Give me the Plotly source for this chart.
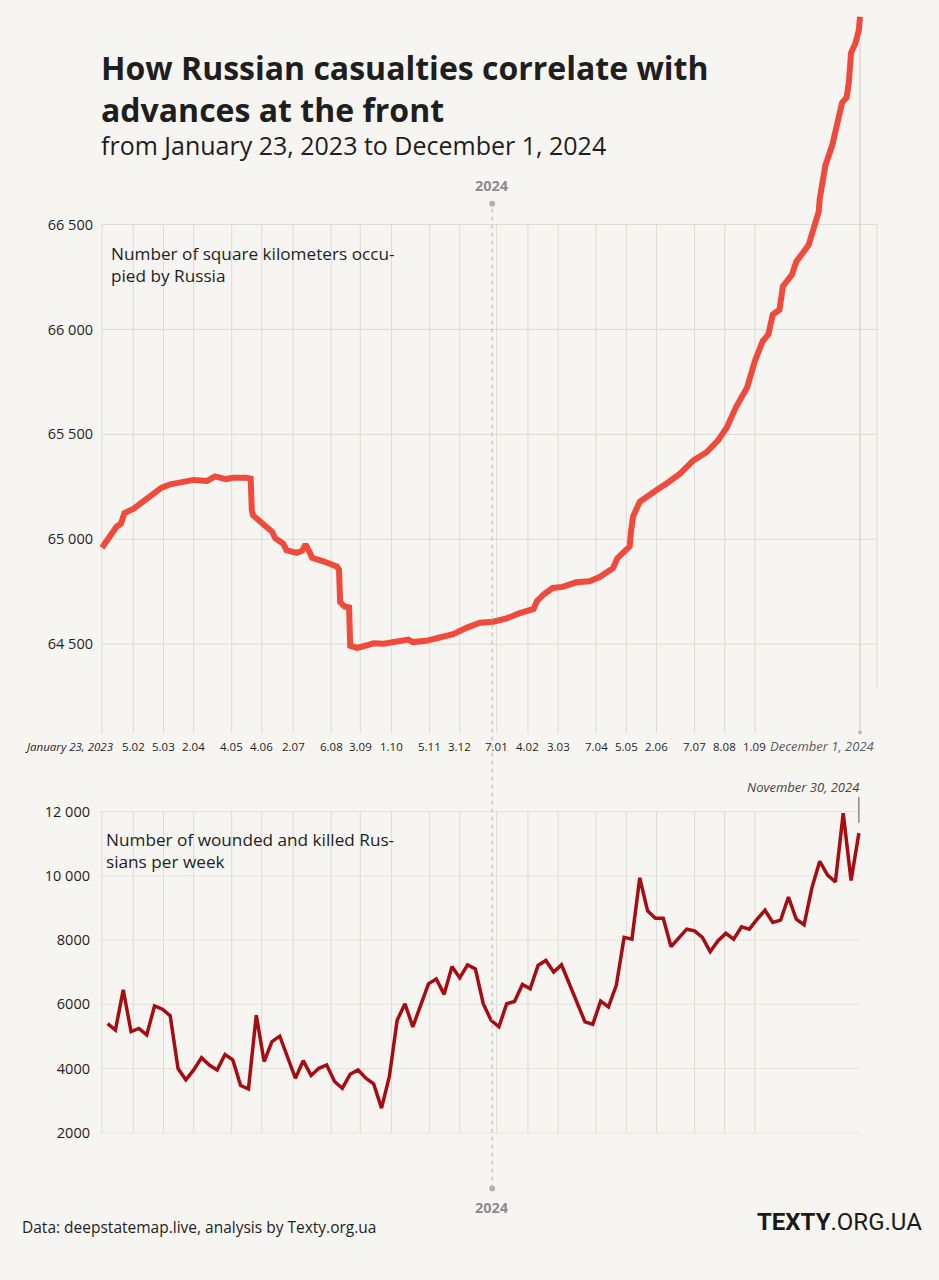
import pandas as pd
import plotly.graph_objects as go

# ---------------- data ----------------
occ_dates = [
    "2023-01-23", "2023-01-30", "2023-02-05", "2023-02-09", "2023-02-12", "2023-02-20",
    "2023-03-01", "2023-03-10", "2023-03-17", "2023-03-25", "2023-04-06", "2023-04-15",
    "2023-04-27", "2023-05-04", "2023-05-14", "2023-05-20", "2023-06-01", "2023-06-05",
    "2023-06-06", "2023-06-07", "2023-06-16", "2023-06-24", "2023-06-27", "2023-07-04",
    "2023-07-07", "2023-07-16", "2023-07-21", "2023-07-24", "2023-07-28", "2023-07-30",
    "2023-08-09", "2023-08-21", "2023-08-23", "2023-08-24", "2023-08-28", "2023-09-01",
    "2023-09-02", "2023-09-08", "2023-09-17", "2023-09-23", "2023-10-02", "2023-10-14",
    "2023-10-24", "2023-10-28", "2023-11-09", "2023-11-21", "2023-12-03", "2023-12-15",
    "2023-12-27", "2024-01-08", "2024-01-20", "2024-01-31", "2024-02-13", "2024-02-16",
    "2024-02-22", "2024-03-01", "2024-03-10", "2024-03-22", "2024-04-03", "2024-04-12",
    "2024-04-24", "2024-04-28", "2024-05-09", "2024-05-10", "2024-05-12", "2024-05-18",
    "2024-05-27", "2024-06-04", "2024-06-11", "2024-06-23", "2024-07-05", "2024-07-17",
    "2024-07-27", "2024-08-04", "2024-08-12", "2024-08-22", "2024-08-29", "2024-09-05",
    "2024-09-10", "2024-09-14", "2024-09-20", "2024-09-23", "2024-10-01", "2024-10-05",
    "2024-10-16", "2024-10-20", "2024-10-25", "2024-10-26", "2024-10-31", "2024-11-06",
    "2024-11-12", "2024-11-15", "2024-11-19", "2024-11-21", "2024-11-23", "2024-11-27",
    "2024-11-30", "2024-12-01",
]
occ_km2 = [
    64960, 65020, 65060, 65075, 65125, 65145,
    65180, 65210, 65245, 65262, 65270, 65283,
    65278, 65300, 65287, 65293, 65293, 65289,
    65140, 65115, 65073, 65037, 65005, 64980,
    64948, 64935, 64945, 64975, 64935, 64912,
    64895, 64870, 64856, 64700, 64680, 64675,
    64492, 64482, 64495, 64505, 64502, 64515,
    64522, 64510, 64516, 64532, 64548, 64578,
    64602, 64607, 64623, 64647, 64668, 64705,
    64737, 64768, 64773, 64795, 64800, 64820,
    64862, 64910, 64966, 65030, 65108, 65179,
    65215, 65242, 65266, 65313, 65376, 65416,
    65471, 65534, 65629, 65723, 65850, 65945,
    65976, 66071, 66094, 66205, 66260, 66323,
    66402, 66465, 66560, 66623, 66781, 66875,
    67002, 67081, 67105, 67176, 67318, 67365,
    67428, 67490,
]

cas_week_end = pd.date_range("2023-01-28", "2024-11-30", freq="7D")
cas_per_week = [
    5400, 5200, 6450, 5150, 5250, 5050, 5950, 5850, 5650, 4000,
    3650, 3960, 4340, 4110, 3960, 4440, 4270, 3475, 3370, 5660,
    4220, 4840, 5010, 4370, 3700, 4250, 3785, 4010, 4115, 3600,
    3390, 3825, 3960, 3700, 3525, 2770, 3750, 5505, 6020, 5300,
    5975, 6640, 6790, 6310, 7175, 6825, 7230, 7100, 6020, 5505,
    5300, 6020, 6090, 6620, 6485, 7210, 7365, 7005, 7230, 6660,
    6020, 5455, 5380, 6100, 5920, 6590, 8085, 8030, 9940, 8910,
    8680, 8680, 7795, 8065, 8340, 8290, 8085, 7640, 7980, 8210,
    8030, 8415, 8340, 8650, 8930, 8550, 8620, 9340, 8650, 8475,
    9630, 10455, 10020, 9815, 11950, 9855, 11330,
]

tick_dates = [
    "2023-01-23", "2023-02-20", "2023-03-19", "2023-04-15", "2023-05-19", "2023-06-15",
    "2023-07-13", "2023-08-16", "2023-09-11", "2023-10-09", "2023-11-12", "2023-12-09",
    "2024-01-11", "2024-02-08", "2024-03-06", "2024-04-09", "2024-05-06", "2024-06-02",
    "2024-07-06", "2024-08-02", "2024-08-29", "2024-12-01",
]
tick_labels = [
    "January 23, 2023", "5.02", "5.03", "2.04", "4.05", "4.06", "2.07", "6.08", "3.09",
    "1.10", "5.11", "3.12", "7.01", "4.02", "3.03", "7.04", "5.05", "2.06", "7.07",
    "8.08", "1.09", "December 1, 2024",
]
occ_ticks = [64500, 65000, 65500, 66000, 66500]
occ_tick_text = ["64 500", "65 000", "65 500", "66 000", "66 500"]
cas_ticks = [2000, 4000, 6000, 8000, 10000, 12000]
cas_tick_text = ["2000", "4000", "6000", "8000", "10 000", "12 000"]
year_marker = "2024-01-07"

# ---------------- style / layout ----------------
W, H = 939, 1280
BG = "#f7f5f2"
GRID = "#dedad5"
FONT = "Open Sans"
TXT = "#1e1e1e"

def px(xp):
    return xp / W

def py(yp):
    return 1 - yp / H

PX_PER_DAY = 1.118
X0_PX = 102
start = pd.Timestamp("2023-01-23")
x_range = [start - pd.Timedelta(days=X0_PX / PX_PER_DAY),
           start + pd.Timedelta(days=(W - X0_PX) / PX_PER_DAY)]

occ_range = [64075, 67570]
cas_range = [1969, 12362]

fig = go.Figure()
fig.add_trace(go.Scatter(x=occ_dates, y=occ_km2, mode="lines",
                         line=dict(color="#ef4a3c", width=6),
                         xaxis="x", yaxis="y", hoverinfo="skip"))
fig.add_trace(go.Scatter(x=cas_week_end, y=cas_per_week, mode="lines",
                         line=dict(color="#a50d12", width=3.5),
                         xaxis="x2", yaxis="y2", hoverinfo="skip"))

shapes = []
# top chart grid
for v in occ_ticks:
    shapes.append(dict(type="line", xref="paper", yref="y", x0=px(102), x1=px(877),
                       y0=v, y1=v, line=dict(color=GRID, width=1), layer="below"))
for d in tick_dates[:-1]:
    shapes.append(dict(type="line", xref="x", yref="y", x0=d, x1=d,
                       y0=occ_range[0], y1=66500, line=dict(color=GRID, width=1), layer="below"))
shapes.append(dict(type="line", xref="x", yref="paper", x0=tick_dates[-1], x1=tick_dates[-1],
                   y0=py(737), y1=py(43), line=dict(color="#cfcbc6", width=1), layer="below"))
shapes.append(dict(type="circle", xref="x", yref="paper", xsizemode="pixel", ysizemode="pixel",
                   xanchor=tick_dates[-1], yanchor=py(737), x0=-2, x1=2, y0=-2, y1=2,
                   fillcolor="#bdbab5", line=dict(width=0)))
shapes.append(dict(type="line", xref="paper", yref="paper", x0=px(877), x1=px(877),
                   y0=py(693), y1=py(226), line=dict(color=GRID, width=1), layer="below"))
# bottom chart grid
for v in cas_ticks:
    shapes.append(dict(type="line", xref="paper", yref="y2", x0=px(99), x1=px(860),
                       y0=v, y1=v, line=dict(color="#e6e3de", width=1), layer="below"))
for d in tick_dates[:-1]:
    shapes.append(dict(type="line", xref="x2", yref="y2", x0=d, x1=d,
                       y0=2000, y1=12000, line=dict(color=GRID, width=1), layer="below"))
# year marker
shapes.append(dict(type="line", xref="x", yref="paper", x0=year_marker, x1=year_marker,
                   y0=py(1196), y1=py(205), line=dict(color="#b5b2ad", width=1, dash="4px,4px")))
for yy in (205, 1196):
    shapes.append(dict(type="circle", xref="x", yref="paper", xsizemode="pixel", ysizemode="pixel",
                       xanchor=year_marker, yanchor=py(yy), x0=-3, x1=3, y0=-3, y1=3,
                       fillcolor="#b5b2ad", line=dict(width=0)))
# last-week pointer
last_week = cas_week_end[-1]
shapes.append(dict(type="line", xref="x2", yref="paper", x0=last_week, x1=last_week,
                   y0=py(828), y1=py(802), line=dict(color="#555", width=1)))

ann = []
def A(text, x, y, size, color=TXT, xanchor="left", yanchor="middle", xref="paper", yref="paper",
      xshift=0, align="left", family=FONT):
    ann.append(dict(text=text, x=x, y=y, xref=xref, yref=yref, xanchor=xanchor, yanchor=yanchor,
                    showarrow=False, xshift=xshift, align=align,
                    font=dict(family=family, size=size, color=color)))

A("<b>How Russian casualties correlate with</b>", px(99), py(68), 32)
A("<b>advances at the front</b>", px(99), py(110), 32)
A("from January 23, 2023 to December 1, 2024", px(99), py(146), 25)
A("Number of square kilometers occu-<br>pied by Russia", px(109), py(266), 17.2)
A("Number of wounded and killed Rus-<br>sians per week", px(104), py(855.5), 17.2)

for i, (d, lab) in enumerate(zip(tick_dates, tick_labels)):
    if i == 0:
        A("<i>" + lab + "</i>", d, py(751), 11.5, TXT, xanchor="right", xref="x", xshift=14)
    elif i == len(tick_dates) - 1:
        A("<i>" + lab + "</i>", d, py(751), 13, "#5a5a5a", xanchor="right", xref="x", xshift=16)
    else:
        A(lab, d, py(751), 11.5, TXT, xanchor="center", xref="x")

A("<b>2024</b>", year_marker, py(187), 14.5, "#8c8c8c", xanchor="center", xref="x")
A("<b>2024</b>", year_marker, py(1215), 14.5, "#8c8c8c", xanchor="center", xref="x")
A("<i>November 30, 2024</i>", last_week, py(792), 13, "#444", xanchor="right", xref="x2", xshift=2)

A("Data: deepstatemap.live, analysis by Texty.org.ua", px(20), py(1235), 15.5)
ann.append(dict(text="<b>TEXTY</b>.ORG.UA", x=px(924), y=py(1230), xref="paper", yref="paper",
                xanchor="right", yanchor="middle", showarrow=False,
                font=dict(family="Roboto", size=24, color="#1a1a1a")))

axis_common = dict(showgrid=False, zeroline=False, showline=False)
fig.update_layout(
    width=W, height=H,
    margin=dict(l=0, r=0, t=0, b=0),
    paper_bgcolor=BG, plot_bgcolor="rgba(0,0,0,0)",
    showlegend=False,
    font=dict(family=FONT, color=TXT),
    xaxis=dict(domain=[0, 1], range=x_range, visible=False, type="date", **axis_common),
    xaxis2=dict(domain=[0, 1], range=x_range, visible=False, type="date", anchor="y2", **axis_common),
    yaxis=dict(domain=[py(738), 1], range=occ_range, anchor="free", position=px(102),
               tickvals=occ_ticks, ticktext=occ_tick_text, ticks="", ticklabelstandoff=9,
               tickfont=dict(family=FONT, size=14.5, color=TXT), **axis_common),
    yaxis2=dict(domain=[py(1141), py(805)], range=cas_range, anchor="free", position=px(99),
                tickvals=cas_ticks, ticktext=cas_tick_text, ticks="", ticklabelstandoff=9,
                tickfont=dict(family=FONT, size=14.5, color=TXT), **axis_common),
    shapes=shapes,
    annotations=ann,
)

fig.write_html("out.html")
